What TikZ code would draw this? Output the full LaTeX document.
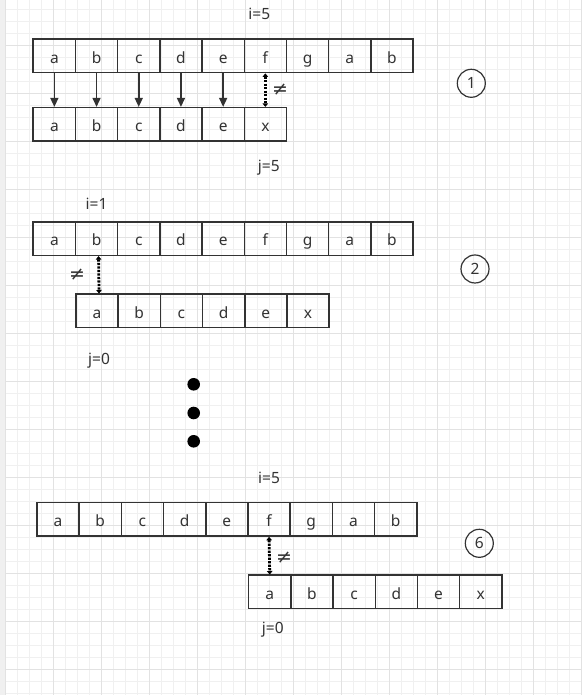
\documentclass[tikz,border=0pt]{standalone}
\usepackage{fontspec}
\setmainfont{Noto Sans}
\newfontfamily\signefont{DejaVu Sans}
\usetikzlibrary{matrix,arrows.meta,positioning}
\newcommand{\cellw}{42.2pt}
\newcommand{\cellh}{33.4pt}
\newcommand{\diff}{{\signefont\fontsize{19}{20}\selectfont ≠}}
\definecolor{traitgris}{HTML}{333333}
\definecolor{grillemin}{HTML}{F0F0F0}
\definecolor{grillemaj}{HTML}{E2E2E2}
\tikzset{
    every node/.style={font=\fontsize{15.5}{18}\selectfont,text=traitgris},
    node style cell/.style={draw=traitgris,line width=1.5pt,minimum width=\cellw,%
                            minimum height=\cellh,inner sep=0pt,%
                            text height=15pt,text depth=0.4pt},
    node style num/.style={draw=traitgris,circle,line width=1.2pt,minimum size=28pt,inner sep=0pt},
    matrix style tab/.style={matrix of nodes,nodes={node style cell},%
                             column sep=-1.5pt,inner sep=0pt,matrix anchor=north west},
    arrow style eq/.style={draw=traitgris,line width=1.5pt,-{Triangle[length=9pt,width=8pt]}},
    arrow style neq/.style={draw=black,line width=2.8pt,dash pattern=on 2.2pt off 1.3pt,%
                            {Triangle[length=3.5pt,width=5.5pt]}-{Triangle[length=3.5pt,width=5.5pt]}},
}

\begin{document}
\begin{tikzpicture}[x=1pt,y=1pt]
\useasboundingbox (0,0) rectangle (582,695);
% la grille
\fill[grillemin] (0,0) rectangle (5,695);
\foreach \k in {0,...,48}
    \draw[grillemin,line width=1pt] ({5.3+12*\k},0) -- ({5.3+12*\k},695);
\foreach \k in {0,...,57}
    \draw[grillemin,line width=1pt] (5.3,{685.7-12*\k}) -- (582,{685.7-12*\k});
\foreach \k in {0,...,12}
    \draw[grillemaj,line width=1pt] ({5.3+48*\k},0) -- ({5.3+48*\k},695);
\foreach \k in {0,...,13}
    \draw[grillemaj,line width=1pt] (5.3,{649.7-48*\k}) -- (582,{649.7-48*\k});

% les tableaux
\matrix (text1) [matrix style tab] at (32.3,656.7)
{ a & b & c & d & e & f & g & a & b \\ };
\matrix (pat1) [matrix style tab] at (32.3,588.3)
{ a & b & c & d & e & x \\ };
\matrix (text2) [matrix style tab] at (32.3,474)
{ a & b & c & d & e & f & g & a & b \\ };
\matrix (pat2) [matrix style tab] at (75,401.7)
{ a & b & c & d & e & x \\ };
\matrix (text6) [matrix style tab] at (36,193.3)
{ a & b & c & d & e & f & g & a & b \\ };
\matrix (pat6) [matrix style tab] at (247.7,120.7)
{ a & b & c & d & e & x \\ };

% les indices
\node [above=15pt of text1-1-6.north,xshift=-6pt] (i1) {i=5};
\node [below=15pt of pat1-1-6.south,xshift=3.5pt] (j1) {j=5};
\node [above=8.5pt of text2-1-2.north] (i2) {i=1};
\node [below=20.7pt of pat2-1-1.south,xshift=2pt] (j2) {j=0};
\node [above=15pt of text6-1-6.north] (i6) {i=5};
\node [below=8.7pt of pat6-1-1.south,xshift=3pt] (j6) {j=0};

% les fleches
\foreach \c in {1,...,5}
    \draw[arrow style eq] (text1-1-\c.south) -- (pat1-1-\c.north);
\draw[arrow style neq] (text1-1-6.south) -- (pat1-1-6.north)
    node[midway,right=2pt] (d1) {\diff};
\draw[arrow style neq] ([xshift=2pt]text2-1-2.south) -- ([xshift=2pt]pat2-1-1.north)
    node[midway,left=9pt] (d2) {\diff};
\draw[arrow style neq] (text6-1-6.south) -- (pat6-1-1.north)
    node[midway,right=2pt,yshift=-2pt] (d6) {\diff};

% les etapes
\node [node style num] (n1) at (471.3,611.7) {1};
\node [node style num] (n2) at (475,426) {2};
\node [node style num] (n6) at (479.3,151.7) {6};
\foreach \y in {310.7,282,253.7}
    \fill (193.7,\y) circle (6.3pt);
\end{tikzpicture}
\end{document}
